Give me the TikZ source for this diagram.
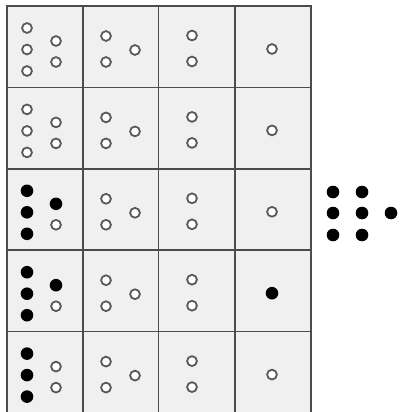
\documentclass[tikz,border=0pt]{standalone}
\begin{document}
\begin{tikzpicture}[x=1pt,y=-1pt,
  cellbox/.style={draw=black!70,line width=1.7pt,fill=black!6},
  opendot/.style={draw=black!65,line width=1.8pt,fill=white},
  fulldot/.style={fill=black}]
\useasboundingbox (0,0) rectangle (401,412);
% cells
\foreach \r in {0,...,4}{
  \foreach \c/\xa/\xb in {0/7/83,1/83/158.5,2/158.5/235,3/235/311}{
    \pgfmathsetmacro{\ya}{6+81.4*\r}
    \pgfmathsetmacro{\yb}{6+81.4*(\r+1)}
    \draw[cellbox] (\xa,\ya) rectangle (\xb,\yb);
  }
}
% dot pattern per row: col1 five flags (left 3, right 2), col4 flag
\foreach \r/\la/\lb/\lc/\ra/\rb/\f in {0/0/0/0/0/0/0,1/0/0/0/0/0/0,2/1/1/1/1/0/0,3/1/1/1/1/0/1,4/1/1/1/0/0/0}{
  \pgfmathsetmacro{\y}{6+81.4*\r}
  % column 1
  \foreach \dx/\dy/\v in {20/22/\la,20/43.5/\lb,20/65/\lc,49/35/\ra,49/56/\rb}{
    \ifnum\v=1
      \fill[fulldot] (7+\dx,\y+\dy) circle (6.3);
    \else
      \draw[opendot] (7+\dx,\y+\dy) circle (4.9);
    \fi
  }
  % column 2
  \draw[opendot] (106,\y+30) circle (4.9);
  \draw[opendot] (106,\y+56) circle (4.9);
  \draw[opendot] (135,\y+44) circle (4.9);
  % column 3
  \draw[opendot] (192,\y+29.5) circle (4.9);
  \draw[opendot] (192,\y+55.5) circle (4.9);
  % column 4
  \ifnum\f=1
    \fill[fulldot] (272,\y+43) circle (6.3);
  \else
    \draw[opendot] (272,\y+43) circle (4.9);
  \fi
}
% braille sign on the right
\foreach \p in {(333,192),(333,213),(333,235),(362,192),(362,213),(362,235),(391,213)}{
  \fill[fulldot] \p circle (6.3);
}
\end{tikzpicture}
\end{document}
